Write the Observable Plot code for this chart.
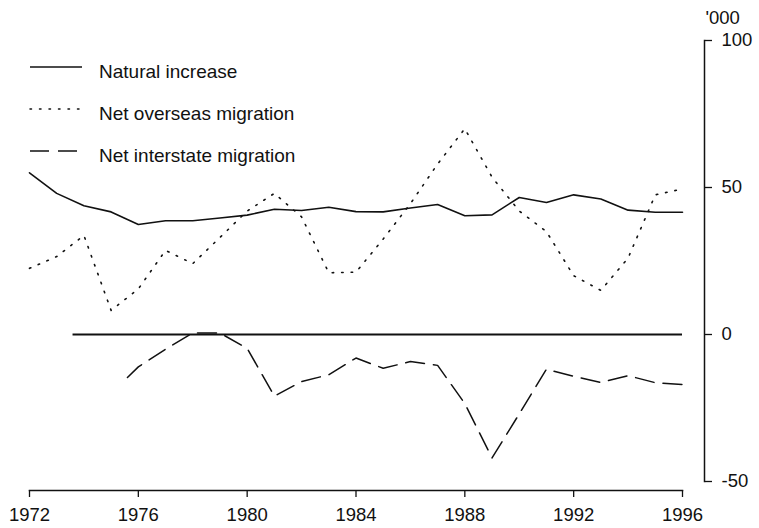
<!DOCTYPE html>
<html>
<head>
<meta charset="utf-8">
<script src="https://cdn.jsdelivr.net/npm/d3@7"></script>
<script src="https://cdn.jsdelivr.net/npm/@observablehq/plot@0.6"></script>
<style>
  html, body { margin: 0; padding: 0; background: #fff; }
</style>
</head>
<body>
<div id="chart"></div>
<script>
// ---- Data ('000 persons) ----
const years = [1972, 1973, 1974, 1975, 1976, 1977, 1978, 1979, 1980, 1981, 1982, 1983, 1984,
               1985, 1986, 1987, 1988, 1989, 1990, 1991, 1992, 1993, 1994, 1995, 1996];
const naturalIncrease = [55, 48, 43.8, 41.7, 37.4, 38.7, 38.7, 39.6, 40.6, 42.6, 42.2, 43.3, 41.8,
                         41.7, 43, 44.2, 40.4, 40.7, 46.6, 44.9, 47.5, 46.1, 42.3, 41.6, 41.6];
const netOverseasMigration = [22.5, 26.5, 33.7, 8.2, 15.5, 28.6, 24.1, 33, 42, 48, 40, 21, 21.2,
                              32.5, 44.5, 58, 70, 53.5, 42, 35, 20, 15, 26, 47.5, 49.5];
const interstateYears = [1975.6, 1976, 1977, 1978, 1979, 1980, 1981, 1982, 1983, 1984,
                         1985, 1986, 1987, 1988, 1989, 1990, 1991, 1992, 1993, 1994, 1995, 1996];
const netInterstateMigration = [-14.6, -11, -5, 0.5, 0.5, -4.7, -21, -16, -13.7, -8,
                                -11.5, -9.2, -10.5, -23.5, -42, -27, -11.8, -14.2, -16.3, -14, -16.4, -17];
const xTicks = [1972, 1976, 1980, 1984, 1988, 1992, 1996];
const yTicks = [-50, 0, 50, 100];
const zeroLineYears = [1973.6, 1996];
const seriesNames = ["Natural increase", "Net overseas migration", "Net interstate migration"];
const yUnit = "'000";

// ---- Tables built from the arrays ----
const natural = years.map((year, i) => ({year, value: naturalIncrease[i]}));
const overseas = years.map((year, i) => ({year, value: netOverseasMigration[i]}));
const interstate = interstateYears.map((year, i) => ({year, value: netInterstateMigration[i]}));
const zeroLine = [{y: 0, x1: zeroLineYears[0], x2: zeroLineYears[1]}];

const ink = "#111";
const dashes = [null, "1.5,8", "19,9"];

function legend(index, scales, values, dims) {
  const g = d3.create("svg:g")
    .attr("font-size", 19)
    .attr("font-family", "'Liberation Sans', Arial, sans-serif")
    .attr("text-anchor", "start")
    .attr("fill", ink);
  const left = dims.marginLeft;
  seriesNames.forEach((name, i) => {
    const base = 78 + i * 42;
    const ln = g.append("line")
      .attr("x1", left + 1).attr("x2", left + 53)
      .attr("y1", base - 11).attr("y2", base - 11)
      .attr("stroke", ink).attr("stroke-width", 1.5)
      .attr("stroke-linecap", i === 1 ? "round" : "butt");
    if (dashes[i]) ln.attr("stroke-dasharray", dashes[i]);
    g.append("text").attr("x", left + 70).attr("y", base)
      .attr("text-anchor", "start").text(name);
  });
  return g.node();
}

const chart = Plot.plot({
  width: 759,
  height: 528,
  marginLeft: 29,
  marginRight: 55,
  marginTop: 40,
  marginBottom: 38,
  x: {domain: [1972, 1996], range: [29, 682]},
  y: {domain: [-50, 100], range: [481, 40]},
  style: {fontFamily: "'Liberation Sans', Arial, sans-serif", background: "#fff", color: ink},
  marks: [
    Plot.frame({anchor: "bottom", insetRight: 22, strokeWidth: 1.5}),
    Plot.frame({anchor: "right", insetBottom: 9, strokeWidth: 1.5}),
    Plot.axisX({ticks: xTicks, tickFormat: d => String(d), tickSize: 7, tickPadding: 10,
                fontSize: 18.5, strokeWidth: 1.3, label: null}),
    Plot.axisY({anchor: "right", ticks: yTicks, tickFormat: d => String(d), tickSize: 7,
                tickPadding: 10, fontSize: 18.5, strokeWidth: 1.3, label: null}),
    Plot.text([yUnit], {frameAnchor: "top-right", text: d => d, dx: 1, dy: -22,
                        textAnchor: "start", lineAnchor: "middle", fontSize: 18.5, fill: ink}),
    Plot.ruleY(zeroLine, {y: "y", x1: "x1", x2: "x2", stroke: ink, strokeWidth: 1.8}),
    Plot.line(natural, {x: "year", y: "value", stroke: ink, strokeWidth: 1.6}),
    Plot.line(overseas, {x: "year", y: "value", stroke: ink, strokeWidth: 1.6,
                         strokeDasharray: dashes[1], strokeLinecap: "round"}),
    Plot.line(interstate, {x: "year", y: "value", stroke: ink, strokeWidth: 1.5,
                           strokeDasharray: dashes[2]}),
    legend
  ]
});

document.getElementById("chart").appendChild(chart);
</script>
</body>
</html>
